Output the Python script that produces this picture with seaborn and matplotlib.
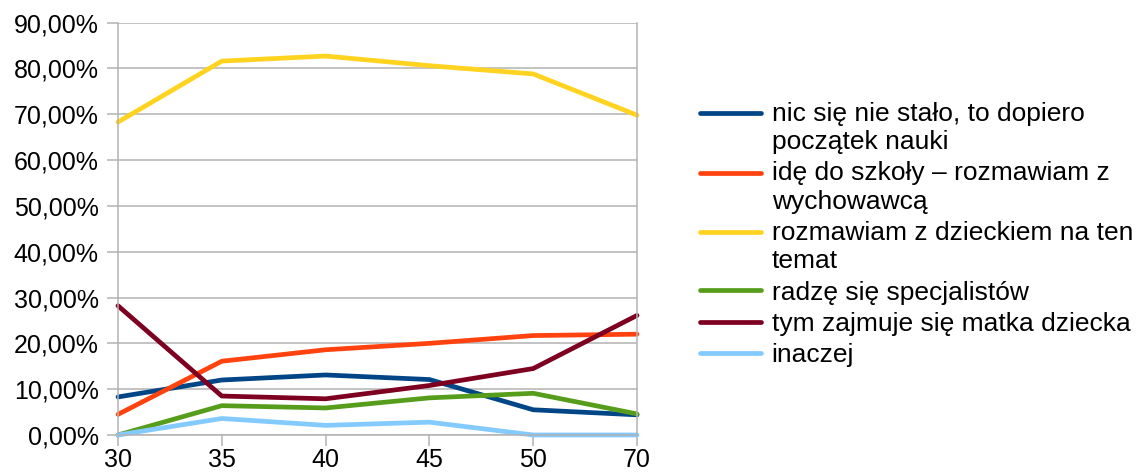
import matplotlib
matplotlib.use("Agg")
import matplotlib.pyplot as plt
import seaborn as sns
import pandas as pd
from matplotlib.ticker import FuncFormatter, MultipleLocator

# Data (percent)
ages = ["30", "35", "40", "45", "50", "70"]
nic_sie_nie_stalo = [8.3, 12.0, 13.1, 12.1, 5.5, 4.4]
ide_do_szkoly = [4.5, 16.1, 18.6, 20.0, 21.7, 22.0]
rozmawiam_z_dzieckiem = [68.3, 81.6, 82.7, 80.6, 78.8, 69.8]
radze_sie = [0.0, 6.4, 5.9, 8.1, 9.1, 4.6]
matka_dziecka = [28.2, 8.5, 7.9, 10.8, 14.5, 26.1]
inaczej = [0.0, 3.6, 2.1, 2.8, 0.0, 0.0]

series_labels = [
    "nic się nie stało, to dopiero\npoczątek nauki",
    "idę do szkoły – rozmawiam z\nwychowawcą",
    "rozmawiam z dzieckiem na ten\ntemat",
    "radzę się specjalistów",
    "tym zajmuje się matka dziecka",
    "inaczej",
]
series_values = [nic_sie_nie_stalo, ide_do_szkoly, rozmawiam_z_dzieckiem,
                 radze_sie, matka_dziecka, inaczej]
colors = ["#004586", "#ff420e", "#ffd320", "#579d1c", "#7e0021", "#83caff"]

rows = []
for label, vals in zip(series_labels, series_values):
    for age, v in zip(ages, vals):
        rows.append({"wiek": age, "odsetek": v, "odpowiedz": label})
df = pd.DataFrame(rows)

sns.set_style("white")
plt.rcParams["font.family"] = ["Liberation Sans", "DejaVu Sans"]
plt.rcParams["text.color"] = "black"

fig = plt.figure(figsize=(11.39, 4.74), dpi=100)
ax = fig.add_axes([0.1036, 0.0823, 0.4557, 0.870])

sns.lineplot(data=df, x="wiek", y="odsetek", hue="odpowiedz",
             hue_order=series_labels, palette=colors, linewidth=3.4,
             sort=False, ax=ax, clip_on=False)

grid_c = "#b3b3b3"
ax.set_xlim(0, len(ages) - 1)
ax.set_ylim(0, 90)
ax.yaxis.set_major_locator(MultipleLocator(10))
ax.yaxis.set_major_formatter(FuncFormatter(lambda v, p: f"{v:.2f}".replace(".", ",") + "%"))
ax.grid(axis="y", color=grid_c, linewidth=1.1)
ax.set_axisbelow(True)
for side in ["left", "right", "bottom"]:
    ax.spines[side].set_visible(True)
    ax.spines[side].set_color(grid_c)
    ax.spines[side].set_linewidth(1.1)
ax.spines["top"].set_visible(False)
ax.tick_params(axis="y", direction="out", length=8, width=1.1, color=grid_c,
               labelsize=18, labelcolor="black", pad=6, left=True)
ax.tick_params(axis="x", direction="out", length=8, width=1.1, color=grid_c,
               labelsize=18, labelcolor="black", pad=1.5, bottom=True)
ax.set_xlabel("")
ax.set_ylabel("")

leg_size = 19
line_sp = 1.22
leg = ax.legend(loc="center left", bbox_to_anchor=(0.615, 0.505),
                bbox_transform=fig.transFigure, frameon=False, fontsize=leg_size,
                handlelength=2.3, handletextpad=0.4, labelspacing=0.28,
                borderpad=0, borderaxespad=0)
for t in leg.get_texts():
    t.set_linespacing(line_sp)
    t.set_color("black")

# handles for two-line entries sit next to the first line, as in the source
shift = 0.5 * line_sp * 0.94 * leg_size
for h, lab in zip(leg.legend_handles, series_labels):
    h.set_linewidth(3.4)
    if "\n" in lab:
        y = h.get_ydata()
        h.set_ydata([v + shift for v in y])

fig.savefig("out.png", dpi=100)
